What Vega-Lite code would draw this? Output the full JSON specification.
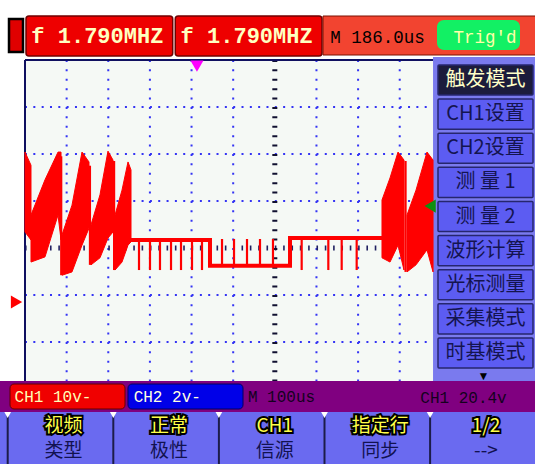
{
  "$schema": "https://vega.github.io/schema/vega-lite/v6.json",
  "width": 535,
  "height": 464,
  "autosize": "none",
  "padding": 0,
  "background": "#ffffff",
  "config": {"view": {"stroke": null}},
  "resolve": {"scale": {"x": "independent", "y": "independent", "color": "independent", "shape": "independent"}},
  "layer": [
    {
      "data": {"values": [{"part": "status bar"}]},
      "mark": {"type": "rect", "fill": "#800080"},
      "encoding": {"y": {"field": "part", "type": "nominal", "axis": null, "scale": {"range": [381, 412], "paddingInner": 0, "paddingOuter": 0}}}
    },
    {
      "data": {"values": [{"part": "soft keys"}]},
      "mark": {"type": "rect", "fill": "#6a6af0"},
      "encoding": {"y": {"field": "part", "type": "nominal", "axis": null, "scale": {"range": [412, 464], "paddingInner": 0, "paddingOuter": 0}}}
    },
    {
      "data": {"values": [{"part": "menu"}]},
      "mark": {"type": "rect", "fill": "#7a7aee"},
      "encoding": {
        "x": {"field": "part", "type": "nominal", "axis": null, "scale": {"range": [433, 535], "paddingInner": 0, "paddingOuter": 0}},
        "y": {"field": "part", "type": "nominal", "axis": null, "scale": {"range": [57, 381], "paddingInner": 0, "paddingOuter": 0}}
      }
    },
    {
      "layer": [
        {
          "data": {"values": [{}]},
          "mark": {"type": "rect", "fill": "#f5f9f5"},
          "encoding": {
            "x": {"datum": 0, "type": "quantitative", "scale": {"domain": [-60.05, 1224.9], "nice": false, "zero": false},
              "axis": {"orient": "top", "values": [0,20,40,60,80,100,120,140,160,180,200,220,240,260,280,300,320,340,360,380,400,420,440,460,480,500,520,540,560,580,600,620,640,660,680,700,720,740,760,780,800,820,840,860,880,900,920,940,960,980], "tickSize": 5, "offset": -65, "labels": false, "domain": false, "grid": false, "tickColor": "#181848", "tickWidth": 1.5, "title": null}},
            "x2": {"datum": 980},
            "y": {"datum": -16.8, "type": "quantitative", "scale": {"domain": [-34.468, 64.255], "nice": false, "zero": false},
              "axis": {"orient": "left", "values": [-16.5,-14.5,-12.5,-10.5,-8.5,-6.5,-4.5,-2.5,-0.5,1.5,3.5,5.5,7.5,9.5,11.5,13.5,15.5,17.5,19.5,21.5,23.5,25.5,27.5,29.5,31.5,33.5,35.5,37.5,39.5,41.5,43.5,45.5,47.5,49.5,51.5], "tickSize": 5, "offset": -30, "labels": false, "domain": false, "grid": false, "tickColor": "#181848", "tickWidth": 1.5, "title": null}},
            "y2": {"datum": 51.5}
          }
        },
        {
          "data": {"values": [{"v": 41.5}, {"v": 31.5}, {"v": 21.5}, {"v": 1.5}, {"v": -8.5}]},
          "mark": {"type": "rule", "stroke": "#3434f4", "strokeWidth": 2, "strokeDash": [2, 6.327]},
          "encoding": {
            "y": {"field": "v", "type": "quantitative", "axis": null},
            "x": {"datum": 0, "type": "quantitative", "axis": null},
            "x2": {"datum": 980}
          }
        },
        {
          "data": {"values": [{"t": 100}, {"t": 200}, {"t": 300}, {"t": 400}, {"t": 500}, {"t": 700}, {"t": 800}, {"t": 900}]},
          "mark": {"type": "rule", "stroke": "#3434f4", "strokeWidth": 2, "strokeDash": [2, 7.4]},
          "encoding": {
            "x": {"field": "t", "type": "quantitative", "axis": null},
            "y": {"datum": 51.5, "type": "quantitative", "axis": null},
            "y2": {"datum": -16.8}
          }
        },
        {
          "data": {"values": [{"v": 11.5}]},
          "mark": {"type": "rule", "stroke": "#202060", "strokeWidth": 5, "strokeDash": [1.6, 6.727]},
          "encoding": {
            "y": {"field": "v", "type": "quantitative", "axis": null},
            "x": {"datum": 0, "type": "quantitative", "axis": null},
            "x2": {"datum": 980}
          }
        },
        {
          "data": {"values": [{"t": 600}]},
          "mark": {"type": "rule", "stroke": "#101030", "strokeWidth": 5, "strokeDash": [2, 7.4]},
          "encoding": {
            "x": {"field": "t", "type": "quantitative", "axis": null},
            "y": {"datum": 51.5, "type": "quantitative", "axis": null},
            "y2": {"datum": -16.8}
          }
        },
        {
          "data": {"values": [{}]},
          "mark": {"type": "rule", "stroke": "#101060", "strokeWidth": 2},
          "encoding": {
            "x": {"datum": 0, "type": "quantitative", "axis": null},
            "x2": {"datum": 980},
            "y": {"datum": 51.5, "type": "quantitative", "axis": null}
          }
        },
        {
          "data": {"values": [{}]},
          "mark": {"type": "rule", "stroke": "#101060", "strokeWidth": 2},
          "encoding": {
            "x": {"datum": 0, "type": "quantitative", "axis": null},
            "y": {"datum": 51.5, "type": "quantitative", "axis": null},
            "y2": {"datum": -16.8}
          }
        },
        {
          "data": {"values": [
            {"b": "0", "t": 0, "lo": 14.9, "hi": 31.9}, {"b": "0", "t": 14.4, "lo": 13.2, "hi": 29.1},
            {"b": "A", "t": 14.4, "lo": 8.5, "hi": 18.5}, {"b": "A", "t": 48, "lo": 9.6, "hi": 26.0}, {"b": "A", "t": 79.3, "lo": 18.5, "hi": 31.9}, {"b": "A", "t": 86.5, "lo": 13.2, "hi": 31.9},
            {"b": "B", "t": 88.9, "lo": 5.7, "hi": 14.3}, {"b": "B", "t": 112.9, "lo": 6.4, "hi": 20.6}, {"b": "B", "t": 136.9, "lo": 12.1, "hi": 31.9}, {"b": "B", "t": 153.7, "lo": 15.7, "hi": 29.8},
            {"b": "C", "t": 158.5, "lo": 7.9, "hi": 16.4}, {"b": "C", "t": 180.1, "lo": 9.4, "hi": 22.8}, {"b": "C", "t": 199.3, "lo": 13.6, "hi": 32.1}, {"b": "C", "t": 211.4, "lo": 14.9, "hi": 30.2},
            {"b": "D", "t": 216.2, "lo": 6.8, "hi": 18.5}, {"b": "D", "t": 233, "lo": 8.5, "hi": 23.8}, {"b": "D", "t": 247.4, "lo": 12.1, "hi": 29.8}, {"b": "D", "t": 254.6, "lo": 12.8, "hi": 28.1},
            {"b": "R1", "t": 857.4, "lo": 9.4, "hi": 21.7}, {"b": "R1", "t": 876.7, "lo": 8.5, "hi": 26.4}, {"b": "R1", "t": 895.9, "lo": 12.1, "hi": 31.9}, {"b": "R1", "t": 910.3, "lo": 6.8, "hi": 30.2},
            {"b": "R2", "t": 917.5, "lo": 6.4, "hi": 18.5}, {"b": "R2", "t": 939.1, "lo": 7.9, "hi": 23.8}, {"b": "R2", "t": 965.5, "lo": 11.1, "hi": 31.9}, {"b": "R2", "t": 980, "lo": 6.4, "hi": 30.2}
          ]},
          "mark": {"type": "area", "color": "#ff0000", "stroke": "#ff0000", "strokeWidth": 1},
          "encoding": {
            "x": {"field": "t", "type": "quantitative", "axis": null},
            "y": {"field": "lo", "type": "quantitative", "axis": null},
            "y2": {"field": "hi"},
            "detail": {"field": "b"}
          }
        },
        {
          "data": {"values": [
            {"i": 1, "t": 250, "v": 13.2}, {"i": 2, "t": 444.3, "v": 13.2}, {"i": 3, "t": 444.3, "v": 7.7},
            {"i": 4, "t": 636.5, "v": 7.7}, {"i": 5, "t": 636.5, "v": 13.6}, {"i": 6, "t": 860, "v": 13.6}
          ]},
          "mark": {"type": "line", "color": "#ff0000", "strokeWidth": 4},
          "encoding": {
            "x": {"field": "t", "type": "quantitative", "axis": null},
            "y": {"field": "v", "type": "quantitative", "axis": null},
            "order": {"field": "i"}
          }
        },
        {
          "data": {"values": [
            {"t": 87, "a": 31.0, "b": 5.7}, {"t": 156, "a": 29.0, "b": 7.9}, {"t": 214, "a": 30.0, "b": 6.8}, {"t": 914, "a": 30.0, "b": 6.4},
            {"t": 273.8, "a": 13.2, "b": 6.8}, {"t": 300.2, "a": 13.2, "b": 6.8}, {"t": 324.2, "a": 13.2, "b": 6.8}, {"t": 350.7, "a": 13.2, "b": 6.8}, {"t": 374.7, "a": 13.2, "b": 6.8}, {"t": 401.1, "a": 13.2, "b": 6.8}, {"t": 425.1, "a": 13.2, "b": 6.8},
            {"t": 473.2, "a": 7.7, "b": 13.4}, {"t": 502, "a": 7.7, "b": 13.4}, {"t": 533.2, "a": 7.7, "b": 13.4}, {"t": 564.4, "a": 7.7, "b": 13.4}, {"t": 595.6, "a": 7.7, "b": 13.4},
            {"t": 664.5, "a": 13.6, "b": 6.8}, {"t": 728.5, "a": 13.6, "b": 6.8}, {"t": 760.6, "a": 13.6, "b": 6.8}, {"t": 796.6, "a": 13.6, "b": 6.8}
          ]},
          "mark": {"type": "rule", "color": "#ff0000", "strokeWidth": 2.2},
          "encoding": {
            "x": {"field": "t", "type": "quantitative", "axis": null},
            "y": {"field": "a", "type": "quantitative", "axis": null},
            "y2": {"field": "b"}
          }
        },
        {
          "data": {"values": [
            {"m": "ground", "t": -20.4, "v": 0},
            {"m": "trigger position", "t": 413, "v": 50.2},
            {"m": "trigger level", "t": 973, "v": 20.4}
          ]},
          "mark": {"type": "point", "filled": true, "opacity": 1, "size": 170},
          "encoding": {
            "x": {"field": "t", "type": "quantitative", "axis": null},
            "y": {"field": "v", "type": "quantitative", "axis": null},
            "shape": {"field": "m", "type": "nominal", "legend": null, "scale": {"domain": ["ground", "trigger position", "trigger level"], "range": ["triangle-right", "triangle-down", "triangle-left"]}},
            "color": {"field": "m", "type": "nominal", "legend": null, "scale": {"domain": ["ground", "trigger position", "trigger level"], "range": ["#ff0000", "#ff00ff", "#109010"]}}
          }
        }
      ]
    },
    {
      "data": {"values": [{"part": "battery"}]},
      "mark": {"type": "rect", "fill": "#e00000", "stroke": "#000000", "strokeWidth": 2.5},
      "encoding": {
        "x": {"field": "part", "type": "nominal", "axis": null, "scale": {"range": [9, 23], "paddingInner": 0, "paddingOuter": 0}},
        "y": {"field": "part", "type": "nominal", "axis": null, "scale": {"range": [19, 52], "paddingInner": 0, "paddingOuter": 0}}
      }
    },
    {
      "data": {"values": [{"ch": "1", "label": "f 1.790MHZ"}, {"ch": "2", "label": "f 1.790MHZ"}]},
      "encoding": {
        "x": {"field": "ch", "type": "nominal", "axis": null, "scale": {"range": [26, 322], "paddingInner": 0.017, "paddingOuter": 0}},
        "y": {"datum": "header", "type": "nominal", "axis": null, "scale": {"range": [16, 56], "paddingInner": 0, "paddingOuter": 0}}
      },
      "layer": [
        {"mark": {"type": "rect", "fill": "#ee0000", "stroke": "#700000", "strokeWidth": 1.5, "cornerRadius": 3}},
        {"mark": {"type": "text", "font": "Liberation Mono", "fontSize": 22, "fontWeight": "bold", "fill": "#ffffc0", "dx": -2}, "encoding": {"text": {"field": "label"}}}
      ]
    },
    {
      "data": {"values": [{"part": "timebase box"}]},
      "mark": {"type": "rect", "fill": "#f24430", "stroke": "#7a1000", "strokeWidth": 1},
      "encoding": {
        "x": {"field": "part", "type": "nominal", "axis": null, "scale": {"range": [323, 536], "paddingInner": 0, "paddingOuter": 0}},
        "y": {"field": "part", "type": "nominal", "axis": null, "scale": {"range": [16, 55], "paddingInner": 0, "paddingOuter": 0}}
      }
    },
    {
      "data": {"values": [{"part": "trig box"}]},
      "mark": {"type": "rect", "fill": "#12f064", "cornerRadius": 7},
      "encoding": {
        "x": {"field": "part", "type": "nominal", "axis": null, "scale": {"range": [437, 520], "paddingInner": 0, "paddingOuter": 0}},
        "y": {"field": "part", "type": "nominal", "axis": null, "scale": {"range": [20, 50], "paddingInner": 0, "paddingOuter": 0}}
      }
    },
    {
      "data": {"values": [{"label": "M 186.0us"}, {"label": "Trig'd"}]},
      "mark": {"type": "text", "font": "Liberation Mono", "fontSize": 17.5},
      "encoding": {
        "x": {"field": "label", "type": "nominal", "sort": null, "axis": null, "scale": {"type": "point", "range": [377.5, 485], "padding": 0}},
        "y": {"datum": "header", "type": "nominal", "axis": null, "scale": {"type": "point", "range": [37.5, 37.5], "padding": 0}},
        "text": {"field": "label"},
        "fill": {"condition": {"test": "datum.label === 'Trig\\'d'", "value": "#ffffa8"}, "value": "#000000"}
      }
    },
    {
      "data": {"values": [
        {"label": "触发模式", "active": true}, {"label": "CH1设置", "active": false}, {"label": "CH2设置", "active": false},
        {"label": "测 量 1", "active": false}, {"label": "测 量 2", "active": false}, {"label": "波形计算", "active": false},
        {"label": "光标测量", "active": false}, {"label": "采集模式", "active": false}, {"label": "时基模式", "active": false}
      ]},
      "encoding": {
        "y": {"field": "label", "type": "nominal", "sort": null, "axis": null, "scale": {"range": [65, 368], "paddingInner": 0.12, "paddingOuter": 0}},
        "x": {"datum": "menu", "type": "nominal", "axis": null, "scale": {"range": [438, 533], "paddingInner": 0, "paddingOuter": 0}}
      },
      "layer": [
        {
          "mark": {"type": "rect", "stroke": "#26266e", "strokeWidth": 1.5, "cornerRadius": 1},
          "encoding": {"fill": {"condition": {"test": "datum.active", "value": "#1c1c3c"}, "value": "#5c5cf2"}}
        },
        {
          "mark": {"type": "text", "font": "Noto Sans CJK SC", "fontSize": 20},
          "encoding": {
            "text": {"field": "label"},
            "fill": {"condition": {"test": "datum.active", "value": "#ffffc8"}, "value": "#141450"}
          }
        }
      ]
    },
    {
      "data": {"values": [{"a": "▼"}]},
      "mark": {"type": "text", "fontSize": 12, "fill": "#000000"},
      "encoding": {
        "text": {"field": "a"},
        "x": {"datum": "more", "type": "nominal", "axis": null, "scale": {"type": "point", "range": [483.5, 483.5], "padding": 0}},
        "y": {"datum": "more", "type": "nominal", "axis": null, "scale": {"type": "point", "range": [376, 376], "padding": 0}}
      }
    },
    {
      "data": {"values": [{"ch": "CH1"}, {"ch": "CH2"}]},
      "mark": {"type": "rect", "cornerRadius": 4, "strokeWidth": 1},
      "encoding": {
        "x": {"field": "ch", "type": "nominal", "axis": null, "scale": {"range": [10, 243], "paddingInner": 0.0254, "paddingOuter": 0}},
        "y": {"datum": "status", "type": "nominal", "axis": null, "scale": {"range": [384, 409], "paddingInner": 0, "paddingOuter": 0}},
        "fill": {"condition": {"test": "datum.ch === 'CH1'", "value": "#f00000"}, "value": "#0000e8"},
        "stroke": {"condition": {"test": "datum.ch === 'CH1'", "value": "#600000"}, "value": "#000060"}
      }
    },
    {
      "data": {"values": [{"label": "CH1 10v-"}, {"label": "CH2 2v-"}, {"label": "M 100us"}]},
      "mark": {"type": "text", "font": "Liberation Mono", "fontSize": 16},
      "encoding": {
        "x": {"field": "label", "type": "nominal", "sort": null, "axis": null, "scale": {"type": "point", "range": [53, 281.5], "padding": 0}},
        "y": {"datum": "status", "type": "nominal", "axis": null, "scale": {"type": "point", "range": [397, 397], "padding": 0}},
        "text": {"field": "label"},
        "fill": {"condition": [{"test": "datum.label === 'CH1 10v-'", "value": "#ffffb8"}, {"test": "datum.label === 'CH2 2v-'", "value": "#ffffe0"}], "value": "#14001e"}
      }
    },
    {
      "data": {"values": [{"label": "CH1 20.4v"}]},
      "mark": {"type": "text", "font": "Liberation Mono", "fontSize": 16, "fill": "#14001e"},
      "encoding": {
        "x": {"field": "label", "type": "nominal", "axis": null, "scale": {"type": "point", "range": [463.5, 463.5], "padding": 0}},
        "y": {"datum": "status", "type": "nominal", "axis": null, "scale": {"type": "point", "range": [398, 398], "padding": 0}},
        "text": {"field": "label"}
      }
    },
    {
      "data": {"values": [
        {"top": "视频", "bottom": "类型"}, {"top": "正常", "bottom": "极性"}, {"top": "CH1", "bottom": "信源"},
        {"top": "指定行", "bottom": "同步"}, {"top": "1/2", "bottom": "-->"}
      ]},
      "mark": {"type": "rect", "fill": "#1c1c48"},
      "encoding": {
        "x": {"field": "top", "type": "nominal", "sort": null, "axis": null, "scale": {"type": "band", "range": [6.7, 431.1], "paddingInner": 0.98106, "paddingOuter": 0}},
        "y": {"datum": "keys", "type": "nominal", "axis": null, "scale": {"range": [413, 464], "paddingInner": 0, "paddingOuter": 0}}
      }
    },
    {
      "data": {"values": [
        {"top": "视频", "bottom": "类型"}, {"top": "正常", "bottom": "极性"}, {"top": "CH1", "bottom": "信源"},
        {"top": "指定行", "bottom": "同步"}, {"top": "1/2", "bottom": "-->"}
      ]},
      "mark": {"type": "point", "shape": "triangle-down", "filled": true, "fill": "#ffffff", "size": 45, "opacity": 1},
      "encoding": {
        "x": {"field": "top", "type": "nominal", "sort": null, "axis": null, "scale": {"type": "band", "range": [6.7, 431.1], "paddingInner": 0.98106, "paddingOuter": 0}},
        "y": {"datum": "keys", "type": "nominal", "axis": null, "scale": {"type": "point", "range": [415, 415], "padding": 0}}
      }
    },
    {
      "data": {"values": [
        {"top": "视频", "bottom": "类型"}, {"top": "正常", "bottom": "极性"}, {"top": "CH1", "bottom": "信源"},
        {"top": "指定行", "bottom": "同步"}, {"top": "1/2", "bottom": "-->"}
      ]},
      "encoding": {"x": {"field": "top", "type": "nominal", "sort": null, "axis": null, "scale": {"type": "point", "range": [63.5, 485.9], "padding": 0}}},
      "layer": [
        {"mark": {"type": "text", "font": "Noto Sans CJK SC", "fontSize": 19, "fill": "#000000", "stroke": "#000000", "strokeWidth": 4, "strokeJoin": "miter"},
         "encoding": {"y": {"datum": "top", "type": "nominal", "axis": null, "scale": {"type": "point", "domain": ["top", "bottom"], "range": [425.5, 451], "padding": 0}}, "text": {"field": "top"}}},
        {"mark": {"type": "text", "font": "Noto Sans CJK SC", "fontSize": 19, "fill": "#ffff48"},
         "encoding": {"y": {"datum": "top", "type": "nominal", "axis": null}, "text": {"field": "top"}}},
        {"mark": {"type": "text", "font": "Noto Sans CJK SC", "fontSize": 19, "fill": "#121250"},
         "encoding": {"y": {"datum": "bottom", "type": "nominal", "axis": null}, "text": {"field": "bottom"}}}
      ]
    }
  ]
}
